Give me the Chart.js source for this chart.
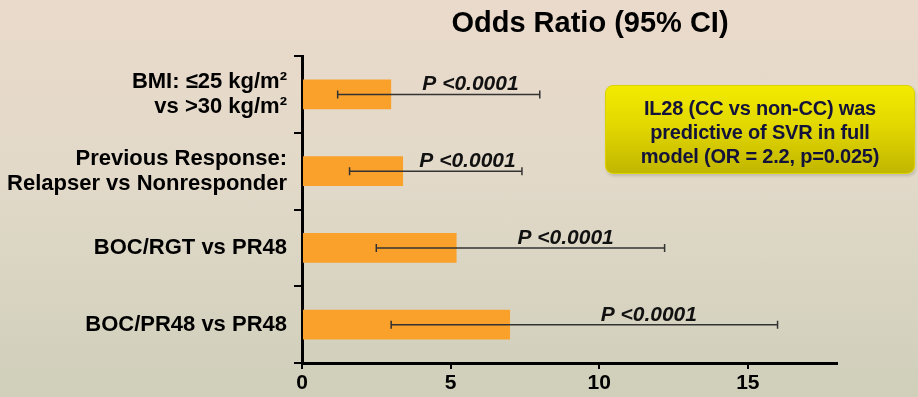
<!DOCTYPE html>
<html>
<head>
<meta charset="utf-8">
<script src="https://cdn.jsdelivr.net/npm/chart.js@4"></script>
<style>
  body { margin: 0; }
  #wrap {
    position: relative; width: 918px; height: 397px;
    background: linear-gradient(to bottom, #eadacb 0%, #e2d9c9 45%, #cfcfba 100%);
    font-family: "Liberation Sans", Arial, sans-serif;
  }
  #note {
    position: absolute; left: 605px; top: 85px; width: 310px; height: 89px;
    border: 1px solid #ddd300; border-radius: 8px;
    background: linear-gradient(to bottom, #f3eb00 0%, #e2d800 45%, #c2b600 100%);
    box-shadow: 1px 2px 3px rgba(0,0,0,0.15);
    color: #12123a; font-weight: bold; font-size: 20px; line-height: 24px;
    text-align: center; padding-top: 10px; box-sizing: border-box;
    letter-spacing: -0.2px;
  }
</style>
</head>
<body>
<div id="wrap">
  <canvas id="myChart" width="918" height="397"></canvas>
  <div id="note">IL28 (CC vs non-CC) was<br>predictive of SVR in full<br>model (OR = 2.2, p=0.025)</div>
</div>
<script>
const labels = [
  ['BMI: \u226425 kg/m\u00b2', 'vs >30 kg/m\u00b2'],
  ['Previous Response:', 'Relapser vs Nonresponder'],
  'BOC/RGT vs PR48',
  'BOC/PR48 vs PR48'
];
const oddsRatio = [3.0, 3.4, 5.2, 7.0];
const ciLow = [1.2, 1.6, 2.5, 3.0];
const ciHigh = [8.0, 7.4, 12.2, 16.0];
const pLabels = ['P <0.0001', 'P <0.0001', 'P <0.0001', 'P <0.0001'];
const xTicks = [0, 5, 10, 15];

const FONT = '"Liberation Sans", Arial, sans-serif';

// error bars + p-value labels + title
const extras = {
  id: 'extras',
  afterDatasetsDraw(chart) {
    const c = chart.ctx;
    const x = chart.scales.x, y = chart.scales.y;
    c.save();
    oddsRatio.forEach((v, i) => {
      const yc = y.getPixelForValue(i);
      const x1 = x.getPixelForValue(ciLow[i]);
      const x2 = x.getPixelForValue(ciHigh[i]);
      c.strokeStyle = '#333';
      c.lineWidth = 1.5;
      c.beginPath();
      c.moveTo(x1, yc); c.lineTo(x2, yc);
      c.moveTo(x1, yc - 4); c.lineTo(x1, yc + 4);
      c.moveTo(x2, yc - 4); c.lineTo(x2, yc + 4);
      c.stroke();

      c.fillStyle = '#111';
      c.font = 'italic bold 21px ' + FONT;
      c.textAlign = 'center';
      c.textBaseline = 'alphabetic';
      const xm = x.getPixelForValue((v + ciHigh[i]) / 2) + 5;
      c.fillText(pLabels[i], xm, yc - 4);
    });
    c.fillStyle = '#000';
    c.font = 'bold 29px ' + FONT;
    c.textAlign = 'center';
    c.textBaseline = 'middle';
    c.fillText('Odds Ratio (95% CI)', 590, 24);
    c.restore();
  }
};

new Chart(document.getElementById('myChart'), {
  type: 'bar',
  data: {
    labels: labels,
    datasets: [{
      data: oddsRatio,
      backgroundColor: '#f9a12b',
      barPercentage: 0.39,
      categoryPercentage: 1
    }]
  },
  options: {
    indexAxis: 'y',
    responsive: false,
    animation: false,
    devicePixelRatio: 1,
    layout: { padding: { top: 56, right: 81, left: 0, bottom: 0 } },
    scales: {
      x: {
        min: 0, max: 18,
        afterBuildTicks: (scale) => {
          scale.ticks = xTicks.map(v => ({ value: v }));
        },
        afterFit: (scale) => { scale.height = 34; },
        border: { display: true, color: '#000', width: 3 },
        grid: { drawOnChartArea: false, drawTicks: true, tickLength: 6, color: '#000', lineWidth: 2 },
        ticks: { color: '#000', font: { family: FONT, size: 21, weight: 'bold' }, padding: 2 }
      },
      y: {
        afterFit: (scale) => { scale.width = 302; },
        border: { display: true, color: '#000', width: 3 },
        grid: { drawOnChartArea: false, drawTicks: true, tickLength: 8, color: '#000', lineWidth: 2 },
        ticks: { color: '#000', font: { family: FONT, size: 22, weight: 'bold', lineHeight: 1.15 }, padding: 7 }
      }
    },
    plugins: {
      legend: { display: false },
      title: { display: false },
      tooltip: { enabled: false }
    }
  },
  plugins: [extras]
});
</script>
</body>
</html>
